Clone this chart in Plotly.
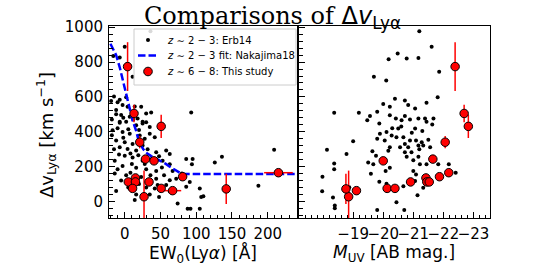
import plotly.graph_objects as go

# ---- Erb14 (z~2-3) : left panel EW vs dv
erb_ew = [36, -16, 0, -7, 11, 93,
          -19, -10, -3, 4, -12, 23, 30, 37, -5, 7, 18, 25, -7, -15, -7, 2,
          -7, 2, 16, 25, 35, -17, -3, 7, 21, 35, 42, -12, 0, 11, 25, -7, 4, 16, 44, 58, 63,
          0, 11, 25, 53, -14, 86, 95, 94, 63, -3, 16, 30, 44, 67, -14, 2, 23, 44, 63, 91,
          86, 105, 42, 63, 14, 74, 88, 105, 107, 92,
          126, 136, 209, 187, 110,
          -10, 5, 12, -2, 20, 28, -15, 8, 32, -8, 19, 38, 48, 10, -10, 28, 52, 36, 8, 55,
          -5, 20, 30, 46, 72, 80, 58, 16, 35, -12, 5, 48, -18, -18, -2, 30, 14, -12]
erb_dv = [977, 835, 888, 826, 715, 511,
          577, 570, 554, 544, 525, 544, 505, 511, 496, 486, 476, 457, 457, 602, 583, 598,
          451, 457, 437, 447, 427, 408, 398, 389, 379, 389, 369, 350, 340, 330, 321, 311, 301, 292, 282, 292, 272,
          262, 252, 233, 233, 233, 243, 243, 214, 214, 204, 194, 185, 175, 175, 160, 150, 140, 130, 122, 112,
          85, 75, 75, 57, 8, -12, -42, -42, 26, -42,
          223, 256, 297, 90, 30,
          420, 415, 470, 480, 410, 360, 300, 275, 300, 270, 265, 245, 260, 215, 185, 215, 195, 150, 165, 150,
          120, 100, 80, 95, 130, 160, 95, 40, 40, 60, 80, 25, 470, 380, 365, 455, 545, 500]

# ---- Erb14 (z~2-3) : right panel MUV vs dv
erb_muv = [-21.2, -21.61, -20.18, -20.48, -20.78, -21.17, -21.86, -19.69, -20.1, -18.37, -19.19,
           -21.81, -21.44, -20.39, -20.72, -20.22, -20.0, -19.8, -19.56, -19.47, -20.83, -21.06,
           -19.87, -20.22, -20.42, -20.61, -20.72, -20.89, -21.17, -21.39, -21.67, -21.44, -21.63,
           -21.06, -20.11, -19.89, -20.28, -20.5, -20.44, -20.67, -19.8, -20.72, -20.89, -21.09,
           -21.28, -21.33, -21.5, -21.56, -21.17, -20.22, -20.56, -20.83, -20.94, -20.72, -20.17,
           -19.64, -19.0, -18.13, -18.78, -19.76, -20.78, -21.17, -21.0, -19.5, -19.67, -18.37,
           -18.37, -21.22, -21.44, -21.83, -22.18, -20.22, -21.0, -21.09, -19.59, -20.08, -22.41,
           -17.98, -21.06, -19.87, -20.11, -20.67, -21.33, -18.87, -17.97, -18.33, -18.39, -18.39,
           -20.44, -21.14, -19.8, -20.7, -20.3, -20.95, -21.3, -20.6, -21.2, -20.05]
erb_dv2 = [977, 888, 816, 849, 820, 824, 744, 715, 694, 509, 509,
           598, 567, 589, 579, 544, 560, 515, 490, 466, 554, 534,
           447, 495, 476, 466, 490, 470, 476, 476, 476, 457, 441,
           418, 398, 389, 379, 418, 369, 369, 360, 330, 350, 350,
           340, 321, 354, 311, 321, 311, 311, 311, 282, 282, 291,
           288, 346, 297, 272, 262, 256, 256, 237, 223, 214, 218,
           185, 214, 214, 214, 214, 194, 175, 155, 159, 175, 165,
           142, 117, 113, 101, 87, 78, 82, 58, 23, -23, -39,
           -4, 35, -49, -49, 420, 395, 405, 430, 300, 350]

# ---- Nakajima18 fit
nak_ew = [-20, -12, -7, 0, 6, 11, 16, 20, 26, 30, 37, 44, 50, 57, 63, 69, 75, 80, 260]
nak_dv = [905, 840, 770, 650, 560, 465, 405, 340, 300, 280, 260, 246, 232, 217, 200, 184, 168, 157, 157]

# ---- This study (z~6-8)
ts_ew = [4, 13, 51, 21, 29, 41, 215, 81, 15, 5, 15, 34, 11, 51, 67, 27, 142]
ts_ew_err = [0, 0, 0, 0, 0, 0, 20, 6, 0, 0, 0, 0, 0, 0, 12, 0, 0]
ts_dv = [774, 505, 431, 340, 243, 233, 165, 142, 135, 112, 112, 112, 75, 75, 62, 27, 72]
ts_dv_err = [140, 50, 67, 35, 15, 15, 15, 15, 15, 15, 15, 15, 15, 15, 15, 150, 87]
ts_muv = [-22.39, -22.69, -22.83, -22.06, -21.65, -20.0, -22.18, -21.87, -21.42, -20.91,
          -21.45, -21.53, -20.13, -20.39, -19.11, -18.85, -18.76]

x_ticks1 = [0, 50, 100, 150, 200]
x_ticks2 = [-19, -20, -21, -22, -23]
x_ticktext2 = ["−19", "−20", "−21", "−22", "−23"]
y_ticks = [0, 200, 400, 600, 800, 1000]
legend_labels = ["<i>z</i> ∼ 2 − 3: Erb14", "<i>z</i> ∼ 2 − 3 fit: Nakajima18",
                 "<i>z</i> ∼ 6 − 8: This study"]

W, H = 545, 273
FONT = "DejaVu Sans"

def px(x):
    return x / W

def py(y):
    return 1 - y / H

fig = go.Figure()

fig.add_trace(go.Scatter(x=erb_ew, y=erb_dv, mode="markers", xaxis="x", yaxis="y",
                         marker=dict(color="black", size=4), name=legend_labels[0]))
fig.add_trace(go.Scatter(x=nak_ew, y=nak_dv, mode="lines", xaxis="x", yaxis="y",
                         line=dict(color="#0000ff", width=2.5, dash="7.5px,3px"),
                         name=legend_labels[1]))
fig.add_trace(go.Scatter(x=ts_ew, y=ts_dv, mode="markers", xaxis="x", yaxis="y",
                         error_y=dict(type="data", array=ts_dv_err, color="red", thickness=1.5, width=0),
                         error_x=dict(type="data", array=ts_ew_err, color="red", thickness=1.5, width=0),
                         marker=dict(color="red", size=8.5, line=dict(color="black", width=1)),
                         name=legend_labels[2]))

fig.add_trace(go.Scatter(x=erb_muv, y=erb_dv2, mode="markers", xaxis="x2", yaxis="y2",
                         marker=dict(color="black", size=4)))
fig.add_trace(go.Scatter(x=ts_muv, y=ts_dv, mode="markers", xaxis="x2", yaxis="y2",
                         error_y=dict(type="data", array=ts_dv_err, color="red", thickness=1.5, width=0),
                         marker=dict(color="red", size=8.5, line=dict(color="black", width=1))))

y_top, y_bot = 26, 218
ax_common = dict(showgrid=False, zeroline=False, showline=True, mirror=True,
                 linecolor="black", linewidth=1, ticks="inside", ticklen=6,
                 tickwidth=1, tickcolor="black", automargin=False, tickangle=0,
                 tickfont=dict(family=FONT, size=15, color="black"))

# hand-drawn legend box (matplotlib style) in paper coords
lg_x0, lg_x1, lg_y0, lg_y1 = 134, 296, 29, 85
rows_y = [40, 55.5, 71.5]
sym_x = 148
shapes = [
    dict(type="rect", xref="paper", yref="paper", x0=px(lg_x0), x1=px(lg_x1), y0=py(lg_y1), y1=py(lg_y0),
         fillcolor="rgba(255,255,255,0.85)", line=dict(color="#cccccc", width=1), layer="above"),
    dict(type="circle", xref="paper", yref="paper", x0=px(sym_x - 2), x1=px(sym_x + 2),
         y0=py(rows_y[0] + 2), y1=py(rows_y[0] - 2), fillcolor="black", line=dict(width=0), layer="above"),
    dict(type="line", xref="paper", yref="paper", x0=px(138), x1=px(159), y0=py(rows_y[1]), y1=py(rows_y[1]),
         line=dict(color="#0000ff", width=2.5, dash="7.5px,3px"), layer="above"),
    dict(type="circle", xref="paper", yref="paper", x0=px(sym_x - 4.3), x1=px(sym_x + 4.3),
         y0=py(rows_y[2] + 4.3), y1=py(rows_y[2] - 4.3), fillcolor="red",
         line=dict(color="black", width=1), layer="above"),
]

annotations = [
    dict(text="Comparisons of <span style='font-family:DejaVu Sans'>Δ<i>v</i><sub>Lyα</sub></span>",
         x=px(272.5), y=1, xref="paper", yref="paper", showarrow=False,
         xanchor="center", yanchor="top",
         font=dict(family="DejaVu Serif", size=24, color="black")),
    dict(text="EW<sub>0</sub>(Ly<i>α</i>) [Å]", x=px(203), y=py(254), xref="paper", yref="paper",
         showarrow=False, xanchor="center", yanchor="middle",
         font=dict(family=FONT, size=17, color="black")),
    dict(text="<i>M</i><sub>UV</sub> [AB mag.]", x=px(394), y=py(253), xref="paper", yref="paper",
         showarrow=False, xanchor="center", yanchor="middle",
         font=dict(family=FONT, size=17, color="black")),
    dict(text="Δv<sub>Lyα</sub> [km s<sup>−1</sup>]", x=px(46), y=py(135), xref="paper", yref="paper",
         showarrow=False, xanchor="center", yanchor="middle", textangle=-90,
         font=dict(family=FONT, size=18, color="black")),
]
for lab, ry in zip(legend_labels, rows_y):
    annotations.append(dict(text=lab, x=px(165), y=py(ry), xref="paper", yref="paper",
                            showarrow=False, xanchor="left", yanchor="middle",
                            font=dict(family=FONT, size=10, color="black")))

fig.update_layout(
    width=W, height=H, margin=dict(l=0, r=0, t=0, b=0),
    paper_bgcolor="white", plot_bgcolor="white",
    showlegend=False,
    xaxis=dict(domain=[px(109), px(297)], range=[-22, 241], anchor="y",
               tickvals=x_ticks1, ticklabelstandoff=2,
               minor=dict(ticks="inside", ticklen=3.5, dtick=10, tickcolor="black"),
               **ax_common),
    yaxis=dict(domain=[py(y_bot), py(y_top)], range=[-95, 1007], anchor="x",
               tickvals=y_ticks, ticklabelstandoff=2,
               minor=dict(ticks="inside", ticklen=3.5, dtick=40, tickcolor="black"),
               **ax_common),
    xaxis2=dict(domain=[px(299), px(490)], range=[-17.2, -23.55], anchor="y2",
                tickvals=x_ticks2, ticktext=x_ticktext2, ticklabelstandoff=2,
                minor=dict(ticks="inside", ticklen=3.5, dtick=0.2, tickcolor="black"),
                **ax_common),
    yaxis2=dict(domain=[py(y_bot), py(y_top)], range=[-95, 1007], anchor="x2",
                tickvals=y_ticks, showticklabels=False,
                minor=dict(ticks="inside", ticklen=3.5, dtick=40, tickcolor="black"),
                **ax_common),
    shapes=shapes,
    annotations=annotations,
)

fig.write_html("out.html", config={"displayModeBar": False},
               post_script="document.body.style.margin='0';document.body.style.padding='0';"
                           "document.body.style.overflow='hidden';")
